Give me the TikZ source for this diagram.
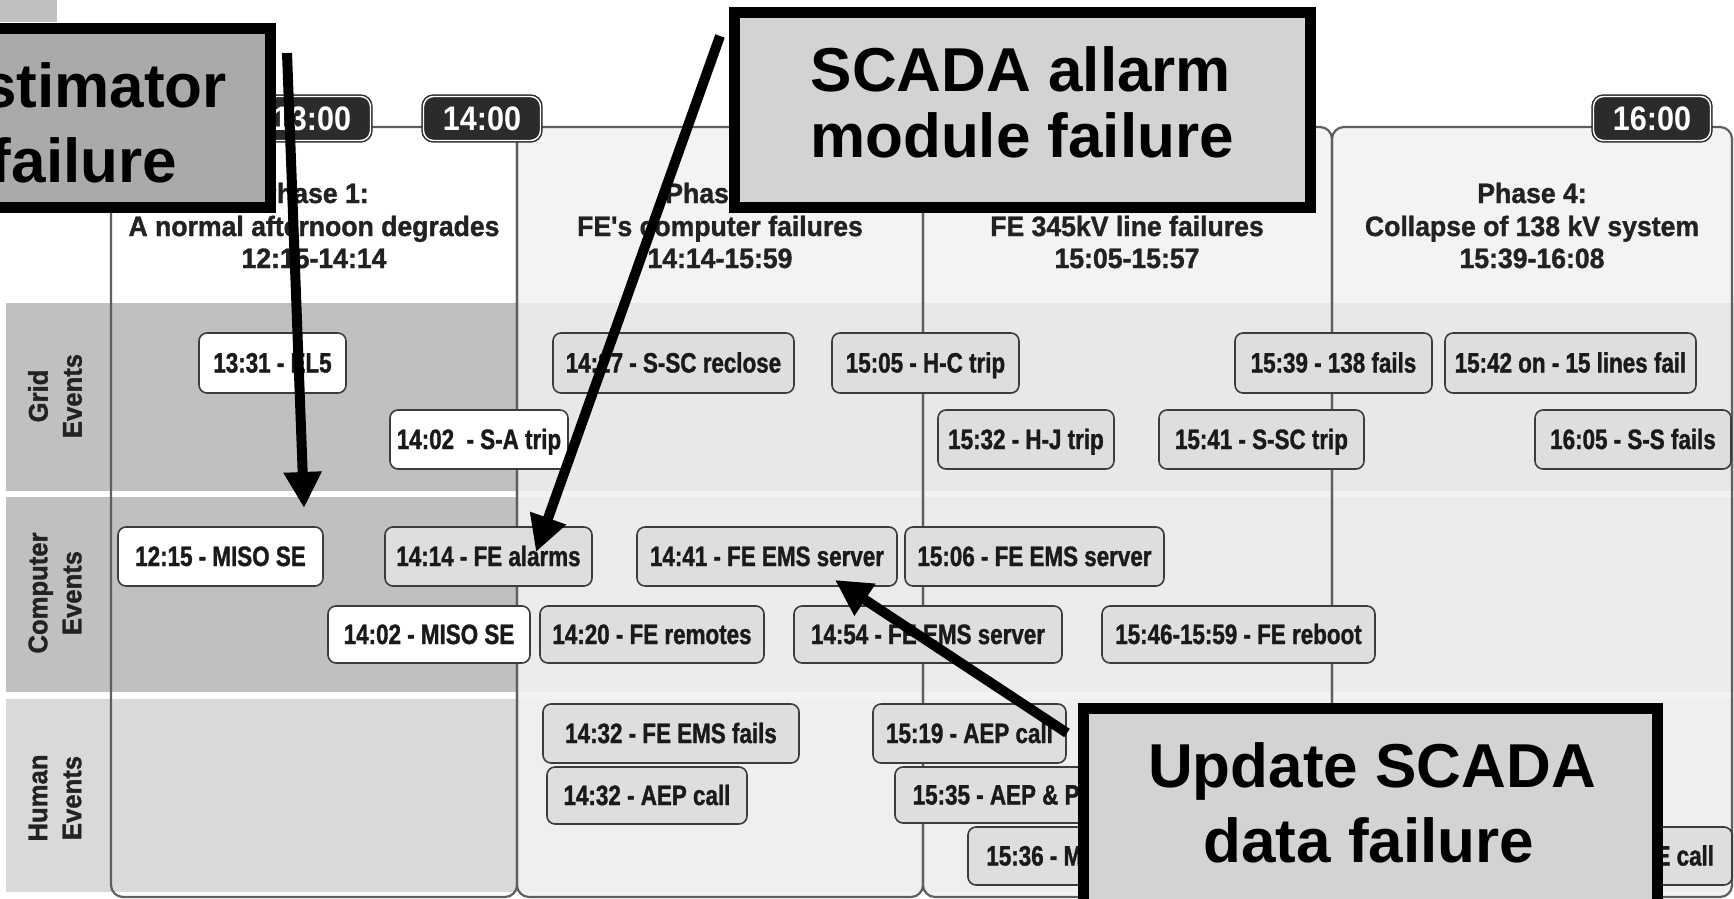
\documentclass[tikz,border=0pt]{standalone}
\usepackage{fontspec}
\setmainfont{Liberation Sans}
\newfontfamily\evfont{Liberation Sans}[FakeStretch=0.8,FakeBold=1.2]
\newfontfamily\hdfont{Liberation Sans}[FakeStretch=0.95,FakeBold=1.2]
\newfontfamily\lbfont{Liberation Sans}[FakeStretch=0.95,FakeBold=1.2]
\newfontfamily\bgfont{Liberation Sans}[FakeStretch=0.9]
\usetikzlibrary{arrows.meta}

\definecolor{lanedark}{HTML}{C0C0C0}
\definecolor{lanehum}{HTML}{D9D9D9}
\definecolor{colfill}{HTML}{F3F3F3}
\definecolor{gridlane}{HTML}{E8E8E8}
\definecolor{complane}{HTML}{ECECEC}
\definecolor{humlane}{HTML}{EFEFEF}
\definecolor{evfill}{HTML}{DEDEDE}
\definecolor{evline}{HTML}{3C3C3C}
\definecolor{evtext}{HTML}{1A1A1A}
\definecolor{hdtext}{HTML}{222222}
\definecolor{framegray}{HTML}{5F5F5F}
\definecolor{badgefill}{HTML}{2B2B2B}
\definecolor{estfill}{HTML}{AAAAAA}
\definecolor{notefill}{HTML}{D3D3D3}

\begin{document}
\begin{tikzpicture}[x=1pt,y=-1pt,
  ev/.style={draw=evline, line width=1.6pt, rounded corners=8pt, fill=evfill,
    inner sep=0pt, text=evtext, font=\evfont\bfseries\fontsize{28}{30}\selectfont,
    text height=20pt, text depth=1pt},
  evw/.style={ev, fill=white},
  badge/.style={draw=badgefill, line width=1.5pt, double=white, double distance=1.4pt,
    fill=badgefill, rounded corners=10pt, minimum width=117pt, minimum height=44pt,
    inner sep=0pt, text=white, font=\bgfont\bfseries\fontsize{34}{36}\selectfont},
  phase/.style={draw=framegray, line width=2.2pt, rounded corners=12pt, inner sep=0pt,
    minimum height=770pt},
  hd/.style={font=\hdfont\bfseries\fontsize{28}{30}\selectfont, anchor=base,
    inner sep=0pt, text=hdtext},
  rowlab/.style={rotate=90, align=center, font=\lbfont\bfseries\fontsize{27}{34}\selectfont,
    text=hdtext, inner sep=0pt},
  callout/.style={draw=black, line width=11pt, inner sep=0pt},
  bigtext/.style={font=\bfseries\fontsize{62}{66}\selectfont, anchor=base,
    inner sep=0pt, text=black},
  callarrow/.style={draw=black, line width=10pt, -{Triangle[length=36pt,width=36pt]}},
]
\useasboundingbox (0,0) rectangle (1734,899);
\clip (0,0) rectangle (1734,899);
\fill[white] (0,0) rectangle (1734,899);
\fill[lanedark] (0,0) rectangle (57,22);

% phase column backgrounds
\fill[white, rounded corners=12pt] (111,127) rectangle (517,897);
\fill[colfill, rounded corners=12pt] (517,127) rectangle (923,897);
\fill[colfill, rounded corners=12pt] (923,127) rectangle (1332,897);
\fill[colfill, rounded corners=12pt] (1332,127) rectangle (1732,897);

% event lanes
\fill[lanedark] (6,303) rectangle (517,491);
\fill[lanedark] (6,497) rectangle (517,692);
\fill[lanehum]  (6,699) rectangle (517,892);
\fill[gridlane] (517,303) rectangle (1734,491);
\fill[complane] (517,497) rectangle (1734,692);
\fill[humlane]  (517,699) rectangle (1734,892);

% phase frames
\node[phase, minimum width=406pt] (p1) at (314,512) {};
\node[phase, minimum width=406pt] (p2) at (720,512) {};
\node[phase, minimum width=409pt] (p3) at (1127.5,512) {};
\node[phase, minimum width=400pt] (p4) at (1532,512) {};

% time marks
\node[badge] (t13) at (312,118.5) {13:00};
\node[badge] (t14) at (482,118.5) {14:00};
\node[badge] (t16) at (1652,118.5) {16:00};

% phase headings
\node[hd] (h1a) at (314,203) {Phase 1:};
\node[hd] (h1b) at (314,236) {A normal afternoon degrades};
\node[hd] (h1c) at (314,268) {12:15-14:14};
\node[hd] (h2a) at (720,203) {Phase 2:};
\node[hd] (h2b) at (720,236) {FE's computer failures};
\node[hd] (h2c) at (720,268) {14:14-15:59};
\node[hd] (h3a) at (1127,203) {Phase 3:};
\node[hd] (h3b) at (1127,236) {FE 345kV line failures};
\node[hd] (h3c) at (1127,268) {15:05-15:57};
\node[hd] (h4a) at (1532,203) {Phase 4:};
\node[hd] (h4b) at (1532,236) {Collapse of 138 kV system};
\node[hd] (h4c) at (1532,268) {15:39-16:08};

% lane labels
\node[rowlab] (lgrid) at (55,396) {Grid\\Events};
\node[rowlab] (lcomp) at (55,593) {Computer\\Events};
\node[rowlab] (lhum)  at (55,798) {Human\\Events};

% grid events
\node[evw, minimum width=147pt, minimum height=60pt] (g1331) at (272.5,363) {13:31 - EL5};
\node[ev,  minimum width=241pt, minimum height=60pt] (g1427) at (673.5,363) {14:27 - S-SC reclose};
\node[ev,  minimum width=187pt, minimum height=60pt] (g1505) at (925.5,363) {15:05 - H-C trip};
\node[ev,  minimum width=197pt, minimum height=60pt] (g1539) at (1333.5,363) {15:39 - 138 fails};
\node[ev,  minimum width=251pt, minimum height=60pt] (g1542) at (1570.5,363) {15:42 on - 15 lines fail};
\node[evw, minimum width=178pt, minimum height=59pt] (g1402) at (479,439.5) {14:02~ - S-A trip};
\node[ev,  minimum width=176pt, minimum height=59pt] (g1532) at (1026,439.5) {15:32 - H-J trip};
\node[ev,  minimum width=205pt, minimum height=59pt] (g1541) at (1261.5,439.5) {15:41 - S-SC trip};
\node[ev,  minimum width=196pt, minimum height=59pt] (g1605) at (1633,439.5) {16:05 - S-S fails};

% computer events
\node[evw, minimum width=205pt, minimum height=59pt] (c1215) at (220.5,556.5) {12:15 - MISO SE};
\node[ev,  minimum width=207pt, minimum height=59pt] (c1414) at (488.5,556.5) {14:14 - FE alarms};
\node[ev,  minimum width=260pt, minimum height=59pt] (c1441) at (767,556.5) {14:41 - FE EMS server};
\node[ev,  minimum width=259pt, minimum height=59pt] (c1506) at (1034.5,556.5) {15:06 - FE EMS server};
\node[evw, minimum width=202pt, minimum height=57pt] (c1402) at (429,634.5) {14:02 - MISO SE};
\node[ev,  minimum width=224pt, minimum height=57pt] (c1420) at (652,634.5) {14:20 - FE remotes};
\node[ev,  minimum width=268pt, minimum height=57pt] (c1454) at (928,634.5) {14:54 - FE EMS server};
\node[ev,  minimum width=273pt, minimum height=57pt] (c1546) at (1238.5,634.5) {15:46-15:59 - FE reboot};

% human events
\node[ev, minimum width=256pt, minimum height=59pt] (u1432a) at (671,733.5) {14:32 - FE EMS fails};
\node[ev, minimum width=200pt, minimum height=57pt] (u1432b) at (647,795.5) {14:32 - AEP call};
\node[ev, minimum width=193pt, minimum height=59pt] (u1519) at (969.5,733.5) {15:19 - AEP call};
\node[ev, minimum width=277pt, minimum height=56pt] (u1535) at (1033.5,795) {15:35 - AEP \& PJM call};
\node[ev, minimum width=272pt, minimum height=58pt] (u1536) at (1104,856) {15:36 - MISO \& FE call};
\node[ev, minimum width=260pt, minimum height=58pt] (u1545) at (1602,856) {15:45 - PJM \& FE call};

% callout pointers
\coordinate (a1s) at (287,53);
\coordinate (a1e) at (304,508);
\coordinate (a2s) at (720,36);
\coordinate (a2e) at (536,552);
\coordinate (a3s) at (1067,733);
\coordinate (a3e) at (835,580);
\draw[callarrow] (a1s) -- (a1e);
\draw[callarrow] (a2s) -- (a2e);
\draw[callarrow] (a3s) -- (a3e);

% callouts
\node[callout, fill=estfill, minimum width=365pt, minimum height=179pt] (est) at (88,118) {};
\node[bigtext] (estA) at (84,107) {Estimator};
\node[bigtext] (estB) at (84,182) {failure};
\node[callout, fill=notefill, minimum width=576pt, minimum height=195pt] (scada) at (1022.5,110) {};
\node[bigtext] (scadaA) at (1021,91) {SCADA allarm};
\node[bigtext] (scadaB) at (1022,157) {module failure};
\node[callout, fill=notefill, minimum width=574pt, minimum height=221pt] (upd) at (1370.5,819) {};
\node[bigtext] (updA) at (1372,787) {Update SCADA};
\node[bigtext] (updB) at (1369,862) {data failure};
\end{tikzpicture}
\end{document}
